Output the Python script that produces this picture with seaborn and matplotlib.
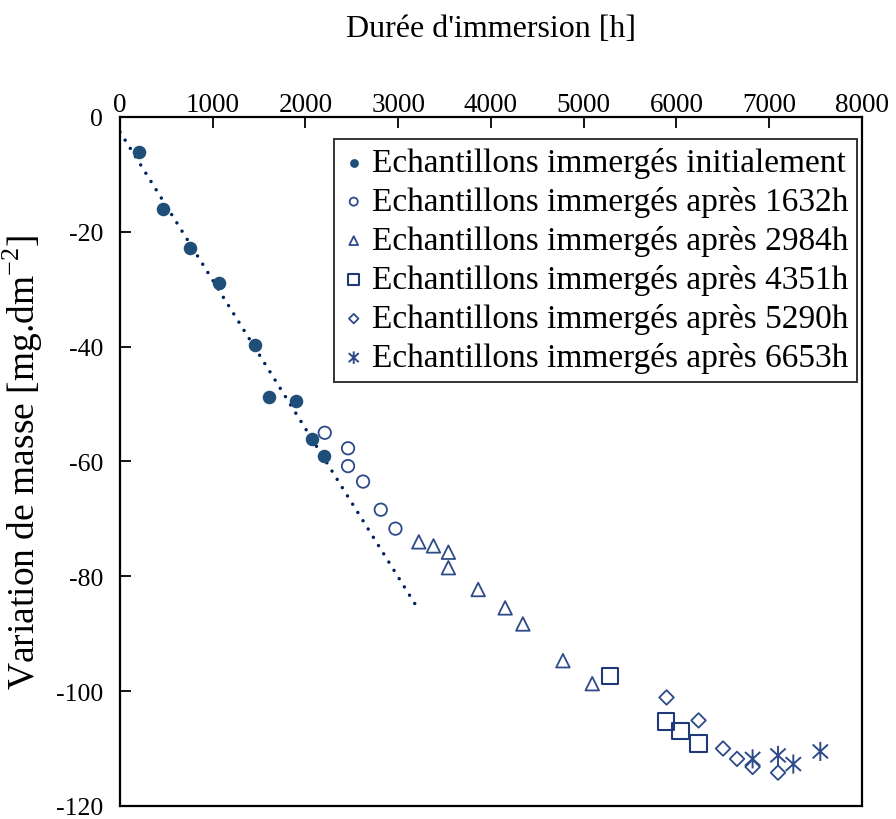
import numpy as np
import pandas as pd
import matplotlib
matplotlib.use("Agg")
import matplotlib.pyplot as plt
from matplotlib.path import Path
import seaborn as sns

# Mass change of immersed samples, grouped by the time at which they were immersed
initial_h = [205, 464, 755, 1068, 1456, 1611, 1902, 2074, 2204]
initial_dm = [-6.1, -16.0, -22.8, -28.9, -39.7, -48.7, -49.4, -56.1, -59.0]

after1632_h = [2208, 2459, 2459, 2621, 2812, 2970]
after1632_dm = [-55.0, -57.7, -60.8, -63.5, -68.4, -71.7]

after2984_h = [3222, 3380, 3541, 3541, 3862, 4153, 4344, 4776, 5092]
after2984_dm = [-74.0, -74.7, -75.8, -78.5, -82.3, -85.5, -88.3, -94.7, -98.7]

after4351_h = [5286, 5890, 6044, 6238]
after4351_dm = [-97.4, -105.3, -106.9, -109.1]

after5290_h = [5893, 6238, 6502, 6653, 6821, 7095]
after5290_dm = [-101.1, -105.1, -110.0, -111.8, -113.2, -114.2]

after6653_h = [6821, 7095, 7260, 7551]
after6653_dm = [-111.8, -111.2, -112.7, -110.5]

series_labels = [
    "Echantillons immergés initialement",
    "Echantillons immergés après 1632h",
    "Echantillons immergés après 2984h",
    "Echantillons immergés après 4351h",
    "Echantillons immergés après 5290h",
    "Echantillons immergés après 6653h",
]

x_ticks = [0, 1000, 2000, 3000, 4000, 5000, 6000, 7000, 8000]
y_ticks = [0, -20, -40, -60, -80, -100, -120]

# linear trend of the initial series, extended forward
trend_end_h = 3220

sns.set_theme(style="white")
plt.rcParams["font.family"] = ["Liberation Serif", "DejaVu Serif"]
plt.rcParams["mathtext.fontset"] = "custom"
plt.rcParams["mathtext.rm"] = "Liberation Serif"
plt.rcParams["axes.unicode_minus"] = False
for key in ["text.color", "axes.labelcolor", "xtick.color", "ytick.color"]:
    plt.rcParams[key] = "black"

fig = plt.figure(figsize=(8.96, 8.2), dpi=100)
ax = fig.add_axes([0.1339, 0.0159, 0.8281, 0.8402])

navy = "#1F4E79"
outline = "#2E4A8A"
sq_col = "#203A78"

# asterisk marker: vertical stroke plus an X
ast = Path(
    [(0, -1), (0, 1), (-0.8, -0.72), (0.8, 0.72), (-0.8, 0.72), (0.8, -0.72)],
    [Path.MOVETO, Path.LINETO, Path.MOVETO, Path.LINETO, Path.MOVETO, Path.LINETO],
)

groups = [
    (initial_h, initial_dm, dict(marker="o", s=95, color=navy, edgecolor=navy, linewidth=0)),
    (after1632_h, after1632_dm, dict(marker="o", s=80, facecolor="none", edgecolor=outline, linewidth=1.3)),
    (after2984_h, after2984_dm, dict(marker="^", s=95, facecolor="none", edgecolor=outline, linewidth=1.3)),
    (after4351_h, after4351_dm, dict(marker="s", s=140, facecolor="none", edgecolor=sq_col, linewidth=1.5)),
    (after5290_h, after5290_dm, dict(marker="D", s=55, facecolor="none", edgecolor=outline, linewidth=1.3)),
    (after6653_h, after6653_dm, dict(marker=ast, s=190, facecolor="none", edgecolor=outline, linewidth=1.4)),
]

for (hx, dm, style), lab in zip(groups, series_labels):
    df = pd.DataFrame({"h": hx, "dm": dm})
    sns.scatterplot(data=df, x="h", y="dm", ax=ax, label=lab, zorder=3, **style)

slope, intercept = np.polyfit(initial_h, initial_dm, 1)
trend_x = np.array([0, trend_end_h])
ax.plot(trend_x, slope * trend_x + intercept, linestyle=(0, (0.01, 2.8)),
        color="#002060", linewidth=2.5, zorder=2, dash_capstyle="round")

ax.set_xlim(0, 8000)
ax.set_ylim(-120, 0)
ax.set_xticks(x_ticks)
ax.set_yticks(y_ticks)
ax.xaxis.tick_top()
ax.xaxis.set_label_position("top")
ax.tick_params(axis="x", which="both", top=True, bottom=False, direction="in",
               length=8, width=1.3, labelsize=19.5, pad=0)
ax.tick_params(axis="y", which="both", left=True, right=False, direction="in",
               length=8, width=1.3, labelsize=18.5, pad=12)
for sp in ax.spines.values():
    sp.set_visible(True)
    sp.set_linewidth(1.6)
    sp.set_color("black")

ax.set_xlabel("Durée d'immersion [h]", fontsize=23, labelpad=40)
ax.set_ylabel("Variation de masse [mg.dm$^{-2}$]", fontsize=27)
ax.yaxis.set_label_coords(-0.101, 0.5)

leg = ax.legend(loc="upper right", bbox_to_anchor=(0.993, 0.968), borderaxespad=0,
                fontsize=24, frameon=True, fancybox=False, handletextpad=0.2,
                handlelength=0.7, labelspacing=0.24, borderpad=0.25, markerscale=0.65)
leg.get_frame().set_edgecolor("black")
leg.get_frame().set_linewidth(1.4)
for t in leg.get_texts():
    t.set_color("black")

fig.savefig("out.png", dpi=100)
